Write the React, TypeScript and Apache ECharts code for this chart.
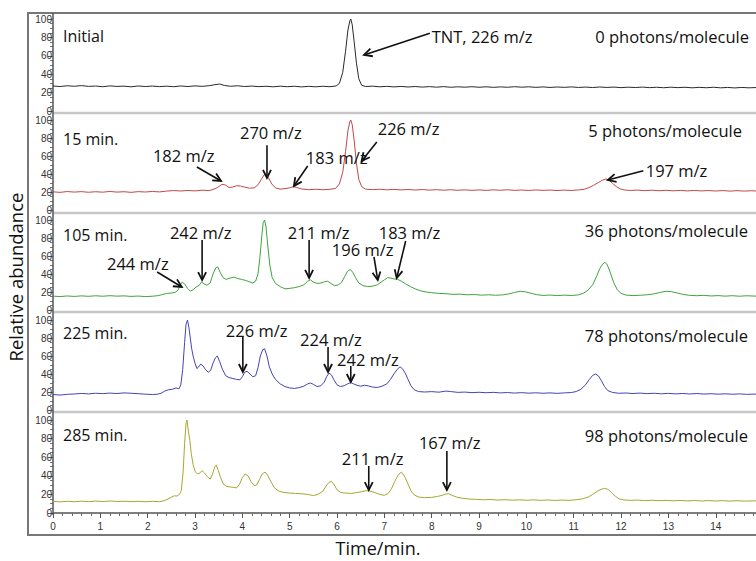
import React, { useEffect, useRef } from "react";
import * as echarts from "echarts";

// ---- Data (time in min, relative abundance in %) ----
const panelLabels = ["Initial", "15 min.", "105 min.", "225 min.", "285 min."];
const photonLabels = [
  "0 photons/molecule",
  "5 photons/molecule",
  "36 photons/molecule",
  "78 photons/molecule",
  "98 photons/molecule",
];
const lineColors = ["#2a2a2a", "#c0484a", "#3fa33f", "#4444b4", "#a6a632"];
const xTickLabels = ["0", "1", "2", "3", "4", "5", "6", "7", "8", "9", "10", "11", "12", "13", "14"];
const yTickLabels = ["0", "20", "40", "60", "80", "100"];

const initialTrace = [
  [0, 27.2], [0.15, 26.6], [0.3, 27.4], [0.45, 26.9], [0.6, 27.6], [0.75, 26.8], [0.9, 27.1], [1.05, 26.4], [1.2, 27.3], [1.35, 26.7],
  [1.5, 27.0], [1.65, 26.3], [1.8, 27.2], [1.95, 26.6], [2.1, 27.1], [2.25, 26.5], [2.4, 27.0], [2.55, 26.4], [2.7, 27.2], [2.85, 26.6],
  [3.0, 27.3], [3.15, 26.8], [3.3, 27.5], [3.42, 28.6], [3.52, 29.3], [3.62, 27.8], [3.75, 26.9], [3.9, 27.4], [4.05, 26.6], [4.2, 27.1],
  [4.35, 26.5], [4.5, 26.9], [4.65, 26.3], [4.8, 27.0], [4.95, 26.4], [5.1, 26.9], [5.25, 26.2], [5.4, 26.8], [5.55, 26.3], [5.7, 26.9],
  [5.85, 26.4], [5.98, 27.2], [6.05, 30], [6.12, 42], [6.18, 65], [6.23, 88], [6.27, 98], [6.29, 100], [6.32, 94], [6.36, 76],
  [6.41, 52], [6.46, 35], [6.52, 28], [6.6, 26.6], [6.75, 27.0], [6.9, 26.3], [7.05, 26.8], [7.2, 26.2], [7.35, 26.7], [7.5, 26.1],
  [7.65, 26.6], [7.8, 26.0], [7.95, 26.5], [8.1, 25.9], [8.25, 26.5], [8.4, 25.8], [8.55, 26.3], [8.7, 25.9], [8.85, 26.4], [9.0, 25.8],
  [9.15, 26.3], [9.3, 25.7], [9.45, 26.2], [9.6, 25.8], [9.75, 26.4], [9.9, 25.9], [10.05, 26.3], [10.2, 25.7], [10.35, 26.2], [10.5, 25.6],
  [10.65, 26.1], [10.8, 25.7], [10.95, 26.2], [11.1, 25.6], [11.25, 26.0], [11.4, 25.5], [11.55, 26.1], [11.7, 25.6], [11.85, 26.0], [12.0, 25.4],
  [12.15, 25.9], [12.3, 25.5], [12.45, 26.0], [12.6, 25.4], [12.75, 25.8], [12.9, 25.3], [13.05, 25.9], [13.2, 25.4], [13.35, 25.8], [13.5, 25.2],
  [13.65, 25.7], [13.8, 25.3], [13.95, 25.8], [14.1, 25.2], [14.25, 25.6], [14.4, 25.1], [14.55, 25.6], [14.7, 25.2], [14.85, 25.5],
];

const min15Trace = [
  [0, 20.2], [0.15, 19.6], [0.3, 20.5], [0.45, 19.9], [0.6, 20.4], [0.75, 19.7], [0.9, 20.3], [1.05, 19.8], [1.2, 20.6], [1.35, 19.9],
  [1.5, 20.3], [1.65, 19.6], [1.8, 20.4], [1.95, 20.0], [2.1, 20.6], [2.25, 20.1], [2.4, 21.0], [2.55, 21.6], [2.7, 21.1], [2.85, 21.7],
  [3.0, 21.2], [3.15, 22.0], [3.3, 21.6], [3.42, 23.5], [3.5, 26], [3.57, 28.5], [3.64, 27.8], [3.72, 25], [3.8, 25.5], [3.88, 27],
  [3.96, 26.6], [4.05, 25.4], [4.15, 24.2], [4.25, 24.6], [4.33, 28], [4.4, 34], [4.46, 39], [4.5, 40], [4.55, 36], [4.62, 29],
  [4.7, 24.5], [4.8, 23.2], [4.9, 23.8], [5.0, 24.6], [5.08, 26], [5.15, 25], [5.25, 23.4], [5.4, 22.6], [5.55, 23.1], [5.7, 22.5],
  [5.85, 23.0], [5.97, 24], [6.05, 29], [6.12, 42], [6.18, 65], [6.23, 88], [6.27, 98], [6.29, 100], [6.32, 95], [6.36, 78],
  [6.41, 52], [6.46, 34], [6.52, 26], [6.6, 23.2], [6.75, 22.6], [6.9, 23.1], [7.05, 22.4], [7.2, 22.9], [7.35, 22.3], [7.5, 22.8],
  [7.65, 22.2], [7.8, 22.7], [7.95, 22.1], [8.1, 22.6], [8.25, 22.0], [8.4, 22.5], [8.55, 21.9], [8.7, 22.4], [8.85, 21.8], [9.0, 22.3],
  [9.15, 21.8], [9.3, 22.4], [9.45, 21.9], [9.6, 22.5], [9.75, 21.8], [9.9, 22.2], [10.05, 21.7], [10.2, 22.3], [10.35, 21.8], [10.5, 22.2],
  [10.65, 21.6], [10.8, 22.1], [10.95, 21.7], [11.1, 22.3], [11.22, 23], [11.32, 24.8], [11.42, 27.5], [11.52, 30.5], [11.6, 33], [11.68, 34.5],
  [11.75, 33], [11.82, 29.5], [11.9, 26], [11.98, 23.5], [12.08, 22.2], [12.2, 21.7], [12.35, 22.1], [12.5, 21.5], [12.65, 22.0], [12.8, 21.4],
  [12.95, 21.9], [13.1, 21.3], [13.25, 21.8], [13.4, 21.2], [13.55, 21.7], [13.7, 21.2], [13.85, 21.6], [14.0, 21.1], [14.15, 21.6], [14.3, 21.0],
  [14.45, 21.5], [14.6, 21.0], [14.75, 21.4], [14.85, 21.1],
];

const min105Trace = [
  [0, 15.4], [0.15, 14.9], [0.3, 15.6], [0.45, 15.1], [0.6, 15.7], [0.75, 15.2], [0.9, 15.8], [1.05, 15.3], [1.2, 15.9], [1.35, 15.4],
  [1.5, 15.7], [1.65, 15.1], [1.8, 15.5], [1.95, 14.9], [2.1, 15.3], [2.2, 15.8], [2.3, 17], [2.4, 18.4], [2.5, 18.8], [2.58, 19.5],
  [2.64, 22], [2.69, 28], [2.73, 31], [2.78, 29], [2.84, 24], [2.9, 21], [2.96, 22.5], [3.02, 25.5], [3.08, 27], [3.14, 31],
  [3.19, 29], [3.25, 27.5], [3.32, 30], [3.38, 40], [3.44, 47], [3.48, 48], [3.53, 42], [3.59, 36], [3.66, 34], [3.74, 35.5],
  [3.82, 36.5], [3.9, 35], [3.98, 34], [4.06, 33], [4.14, 31.5], [4.22, 30], [4.28, 32], [4.33, 40], [4.37, 58], [4.41, 82],
  [4.44, 97], [4.47, 100], [4.5, 92], [4.54, 70], [4.58, 50], [4.63, 36], [4.7, 29.5], [4.8, 26], [4.9, 23.5], [5.0, 24],
  [5.1, 24.8], [5.2, 26], [5.3, 28], [5.38, 32], [5.44, 33.5], [5.5, 31], [5.58, 29.5], [5.66, 30], [5.74, 31.5], [5.8, 32],
  [5.87, 29.5], [5.95, 27], [6.03, 28], [6.1, 31], [6.16, 37], [6.22, 43], [6.28, 45], [6.33, 42], [6.39, 36], [6.46, 30],
  [6.55, 27], [6.65, 26], [6.75, 26.5], [6.85, 28], [6.93, 31], [7.0, 33.5], [7.07, 36], [7.14, 35.5], [7.2, 34.5], [7.28, 34],
  [7.36, 32], [7.45, 29], [7.55, 26], [7.65, 23.5], [7.75, 21.5], [7.88, 20], [8.0, 19.2], [8.15, 18.5], [8.3, 18.1], [8.45, 17.4],
  [8.6, 17.6], [8.75, 16.9], [8.9, 17.2], [9.05, 16.5], [9.2, 16.9], [9.35, 16.4], [9.5, 16.8], [9.62, 17.8], [9.75, 19.5], [9.87, 20.8],
  [9.98, 20.2], [10.1, 18.5], [10.22, 17], [10.35, 16.2], [10.5, 16.6], [10.65, 16.0], [10.8, 16.5], [10.95, 16.1], [11.1, 16.8], [11.2, 18.5],
  [11.3, 22], [11.4, 28], [11.48, 37], [11.55, 46], [11.61, 51], [11.66, 53], [11.71, 50], [11.77, 42], [11.84, 31], [11.92, 22.5],
  [12.0, 18.5], [12.1, 16.6], [12.25, 16.0], [12.4, 16.4], [12.55, 16.9], [12.7, 18.0], [12.82, 19.5], [12.95, 20.8], [13.05, 20.5], [13.18, 19],
  [13.3, 17.4], [13.45, 16.3], [13.6, 15.9], [13.75, 16.3], [13.9, 15.6], [14.05, 16.0], [14.2, 15.4], [14.35, 15.9], [14.5, 15.3], [14.65, 15.8],
  [14.85, 15.4],
];

const min225Trace = [
  [0, 17.2], [0.15, 16.6], [0.3, 17.4], [0.45, 17.8], [0.6, 18.4], [0.75, 17.9], [0.9, 18.6], [1.05, 18.2], [1.2, 18.8], [1.35, 18.3],
  [1.5, 19.0], [1.65, 18.6], [1.8, 18.1], [1.95, 17.6], [2.1, 17.2], [2.2, 17.5], [2.28, 18.5], [2.36, 21], [2.44, 22.5], [2.52, 23],
  [2.6, 24.5], [2.66, 23.5], [2.7, 28], [2.74, 45], [2.78, 75], [2.81, 95], [2.84, 100], [2.87, 92], [2.9, 80], [2.93, 68],
  [2.96, 60], [3.0, 52], [3.04, 46], [3.08, 48], [3.12, 51], [3.17, 49], [3.22, 45], [3.28, 42], [3.33, 44], [3.38, 52],
  [3.43, 58], [3.47, 60], [3.52, 54], [3.58, 45], [3.65, 38], [3.72, 36], [3.8, 35], [3.88, 34], [3.95, 33.5], [4.0, 37],
  [4.05, 42], [4.1, 43], [4.16, 40], [4.22, 37], [4.28, 38], [4.33, 47], [4.38, 60], [4.43, 67], [4.47, 68], [4.52, 60],
  [4.57, 48], [4.63, 40], [4.7, 34], [4.8, 29], [4.9, 26], [5.0, 24.5], [5.1, 24], [5.2, 24.8], [5.3, 26.5], [5.38, 29],
  [5.44, 30], [5.5, 28.5], [5.58, 26], [5.66, 27], [5.73, 31], [5.78, 37], [5.83, 41], [5.88, 39], [5.94, 33], [6.0, 28],
  [6.07, 26], [6.15, 27], [6.22, 29], [6.29, 30.5], [6.35, 29], [6.42, 27.5], [6.5, 26.5], [6.58, 27.5], [6.66, 26.8], [6.75, 25.5],
  [6.85, 25], [6.95, 26.5], [7.05, 29], [7.13, 34], [7.2, 40], [7.27, 45], [7.33, 48], [7.38, 46], [7.44, 41], [7.5, 34],
  [7.56, 27], [7.63, 22.5], [7.72, 20.5], [7.85, 20], [8.0, 20.4], [8.15, 19.8], [8.3, 21], [8.4, 20.5], [8.55, 19.6], [8.7, 19.9],
  [8.85, 19.3], [9.0, 19.7], [9.15, 19.2], [9.3, 19.6], [9.45, 19.0], [9.6, 19.4], [9.75, 18.8], [9.9, 19.3], [10.05, 18.7], [10.2, 19.1],
  [10.35, 18.6], [10.5, 19.0], [10.65, 18.5], [10.8, 19.0], [10.95, 19.4], [11.05, 20.5], [11.15, 23], [11.25, 28], [11.33, 34], [11.4, 38.5],
  [11.46, 40], [11.52, 38], [11.58, 33], [11.65, 26], [11.72, 21.5], [11.82, 19.5], [11.95, 18.6], [12.1, 18.9], [12.25, 18.3], [12.4, 18.8],
  [12.55, 18.2], [12.7, 18.6], [12.85, 18.0], [13.0, 18.5], [13.15, 17.9], [13.3, 18.4], [13.45, 17.8], [13.6, 18.3], [13.75, 17.7], [13.9, 18.1],
  [14.05, 17.6], [14.2, 18.0], [14.35, 17.5], [14.5, 17.9], [14.65, 17.4], [14.85, 17.7],
];

const min285Trace = [
  [0, 12.4], [0.15, 12.0], [0.3, 12.6], [0.45, 12.1], [0.6, 12.7], [0.75, 12.2], [0.9, 12.8], [1.05, 12.3], [1.2, 12.9], [1.35, 12.4],
  [1.5, 12.7], [1.65, 12.2], [1.8, 12.6], [1.95, 12.1], [2.1, 12.5], [2.25, 12.2], [2.35, 13.2], [2.43, 15], [2.5, 17], [2.56, 18.5],
  [2.62, 18.2], [2.67, 20], [2.71, 24], [2.75, 45], [2.78, 75], [2.81, 96], [2.83, 100], [2.86, 88], [2.89, 78], [2.92, 64],
  [2.96, 52], [3.0, 45], [3.05, 42], [3.1, 43], [3.15, 45.5], [3.2, 43], [3.26, 39], [3.32, 36.5], [3.37, 42], [3.42, 50],
  [3.45, 51.5], [3.49, 46], [3.54, 38], [3.6, 31], [3.67, 28.5], [3.75, 28], [3.82, 27.5], [3.88, 27], [3.94, 31], [4.0, 38],
  [4.06, 42], [4.12, 40], [4.18, 34], [4.25, 29.5], [4.3, 30], [4.36, 36], [4.42, 42], [4.48, 44], [4.53, 41], [4.6, 34],
  [4.68, 27], [4.77, 23.5], [4.88, 22], [5.0, 21.5], [5.12, 21], [5.25, 20.7], [5.38, 20], [5.5, 18.8], [5.6, 20], [5.7, 23.5],
  [5.77, 29], [5.83, 33], [5.88, 34], [5.93, 31], [6.0, 25], [6.08, 22], [6.18, 21.5], [6.3, 21], [6.42, 22], [6.52, 23],
  [6.62, 24], [6.7, 23.5], [6.8, 22], [6.9, 20], [7.0, 19], [7.08, 21], [7.15, 26], [7.22, 34], [7.28, 40], [7.34, 43.5],
  [7.38, 43], [7.44, 38], [7.5, 31], [7.56, 24], [7.63, 19.5], [7.72, 17.2], [7.85, 16.5], [8.0, 16.8], [8.12, 17.8], [8.22, 19],
  [8.3, 20.5], [8.36, 20.8], [8.43, 19], [8.52, 17.2], [8.65, 15.8], [8.8, 15], [8.95, 14.6], [9.1, 14.2], [9.25, 14.5], [9.4, 13.9],
  [9.55, 14.3], [9.7, 13.8], [9.85, 14.2], [10.0, 13.7], [10.15, 14.1], [10.3, 13.6], [10.45, 14.0], [10.6, 13.5], [10.75, 13.9], [10.9, 13.6],
  [11.05, 14.2], [11.18, 15.2], [11.3, 17], [11.4, 20], [11.5, 23.5], [11.58, 25.5], [11.65, 26.5], [11.72, 25.5], [11.8, 22], [11.88, 18],
  [11.96, 15.2], [12.06, 14], [12.2, 13.6], [12.35, 13.9], [12.5, 13.3], [12.65, 13.7], [12.8, 13.2], [12.95, 13.6], [13.1, 13.1], [13.25, 13.5],
  [13.4, 13.0], [13.55, 13.4], [13.7, 12.9], [13.85, 13.4], [14.0, 12.9], [14.15, 13.3], [14.3, 12.8], [14.45, 13.2], [14.6, 12.8], [14.85, 13.1],
];

const traces = [initialTrace, min15Trace, min105Trace, min225Trace, min285Trace];

// Peak annotations: panel, label, label anchor (data), arrow tail (data), arrow tip (data)
const annPanel = [0, 1, 1, 1, 1, 1, 2, 2, 2, 2, 2, 3, 3, 3, 4, 4];
const annText = [
  "TNT, 226 m/z", "182 m/z", "270 m/z", "183 m/z", "226 m/z", "197 m/z",
  "242 m/z", "244 m/z", "211 m/z", "196 m/z", "183 m/z",
  "226 m/z", "224 m/z", "242 m/z", "211 m/z", "167 m/z",
];
const annLabelAt = [
  [8.0, 81.5], [2.11, 61], [3.95, 85.6], [5.34, 57.8], [6.86, 91], [12.52, 44.4],
  [2.47, 85.6], [1.14, 52.2], [4.96, 85.6], [5.89, 66.7], [6.88, 85.6],
  [3.65, 87.8], [5.22, 77.8], [6.0, 55.6], [6.1, 59.1], [7.73, 75.3],
];
const annTail = [
  [7.96, 84.5], [3.04, 47.8], [4.52, 72], [5.38, 48.9], [6.84, 75.6], [12.47, 43.5],
  [3.15, 77.8], [2.2, 42.2], [5.41, 77.8], [6.78, 58.9], [7.45, 76.7],
  [4.01, 81.1], [5.81, 70], [6.29, 48.9], [6.67, 50.5], [8.32, 66.7],
];
const annTip = [
  [6.57, 60.9], [3.55, 32.2], [4.52, 35.6], [5.09, 26.7], [6.52, 54.4], [11.72, 33.3],
  [3.15, 33.3], [2.72, 25.6], [5.41, 35.6], [6.86, 33.3], [7.26, 35.6],
  [4.01, 42.2], [5.81, 42.2], [6.29, 31.1], [6.67, 24.7], [8.32, 24.7],
];

// ---- Layout ----
const gridTops = [19, 120, 220, 320, 420];
const gridHeights = [92, 90, 90, 90, 93];
const panelLabelY = [36, 139, 235, 333, 435];
const photonX = [749, 742, 748, 748, 748];
const photonY = [36, 130, 230, 335, 435];
const FONT = '"Open Sans", "Noto Sans", sans-serif';
const TICK_FONT = '"Liberation Sans", Arial, sans-serif';

export default function App() {
  const ref = useRef<HTMLDivElement>(null);
  useEffect(() => {
    const chart = echarts.init(ref.current!, null, { renderer: "svg" });
    const grids = gridTops.map((t, i) => ({ left: 53, right: 0, top: t, height: gridHeights[i] }));
    const xAxes = gridTops.map((_, i) => {
      const last = i === gridTops.length - 1;
      return {
        type: "value",
        gridIndex: i,
        min: 0,
        max: 14.85,
        interval: 1,
        offset: last ? 2 : 0,
        axisLine: { show: last, lineStyle: { color: "#555", width: 1.5 } },
        axisTick: { show: last, length: 5, lineStyle: { color: "#555" } },
        minorTick: { show: last, splitNumber: 5, length: 3, lineStyle: { color: "#666" } },
        axisLabel: {
          show: last,
          fontSize: 10,
          color: "#333",
          fontFamily: TICK_FONT,
          margin: 6,
          formatter: (v: number) => (Number.isInteger(v) && v < xTickLabels.length ? xTickLabels[v] : ""),
          showMaxLabel: false,
        },
        splitLine: { show: false },
      };
    });
    const yAxes = gridTops.map((_, i) => ({
      type: "value",
      gridIndex: i,
      min: 0,
      max: 100,
      interval: 20,
      axisLine: { show: false },
      axisTick: { show: true, length: 5, lineStyle: { color: "#555" } },
      minorTick: { show: true, splitNumber: 4, length: 3, lineStyle: { color: "#777" } },
      axisLabel: {
        fontSize: 10,
        color: "#333",
        fontFamily: TICK_FONT,
        margin: 1,
        formatter: (v: number) => yTickLabels[Math.round(v / 20)] ?? "",
      },
      splitLine: { show: false },
    }));
    const series = traces.map((d, i) => ({
      type: "line",
      xAxisIndex: i,
      yAxisIndex: i,
      data: d,
      showSymbol: false,
      symbol: "none",
      lineStyle: { color: lineColors[i], width: 1 },
      z: 3,
    }));
    chart.setOption({
      animation: false,
      grid: grids,
      xAxis: xAxes,
      yAxis: yAxes,
      series,
    });

    const g: any[] = [];
    // outer frame
    g.push({
      type: "rect",
      shape: { x: 28, y: 13, width: 800, height: 522 },
      style: { fill: "none", stroke: "#777", lineWidth: 2 },
      z: 1,
    });
    // panel separators
    [113, 213, 312, 412].forEach((y) =>
      g.push({
        type: "line",
        shape: { x1: 53, y1: y, x2: 760, y2: y },
        style: { stroke: "#c6c6c6", lineWidth: 2.5 },
        z: 1,
      })
    );
    // continuous y axis line
    g.push({
      type: "line",
      shape: { x1: 53, y1: 13, x2: 53, y2: 515 },
      style: { stroke: "#555", lineWidth: 1.5 },
      z: 2,
    });
    // panel labels
    panelLabels.forEach((t, i) =>
      g.push({
        type: "text",
        x: 63,
        y: panelLabelY[i],
        style: { text: t, fontSize: 16, fontFamily: FONT, fill: "#111", align: "left", verticalAlign: "middle" },
        z: 5,
      })
    );
    photonLabels.forEach((t, i) =>
      g.push({
        type: "text",
        x: photonX[i],
        y: photonY[i],
        style: { text: t, fontSize: 16.5, fontFamily: FONT, fill: "#111", align: "right", verticalAlign: "middle" },
        z: 5,
      })
    );
    // annotations
    annText.forEach((t, k) => {
      const p = annPanel[k];
      const finder = { xAxisIndex: p, yAxisIndex: p };
      const lp = chart.convertToPixel(finder, annLabelAt[k]) as number[];
      const tp = chart.convertToPixel(finder, annTail[k]) as number[];
      const hp = chart.convertToPixel(finder, annTip[k]) as number[];
      g.push({
        type: "text",
        x: lp[0],
        y: lp[1],
        style: { text: t, fontSize: 16.5, fontFamily: FONT, fill: "#111", align: "left", verticalAlign: "middle" },
        z: 5,
      });
      const dx = hp[0] - tp[0];
      const dy = hp[1] - tp[1];
      const len = Math.hypot(dx, dy) || 1;
      const ux = dx / len;
      const uy = dy / len;
      const hl = 8;
      const hw = 4;
      const bx = hp[0] - ux * hl;
      const by = hp[1] - uy * hl;
      g.push({
        type: "line",
        shape: { x1: tp[0], y1: tp[1], x2: hp[0], y2: hp[1] },
        style: { stroke: "#111", lineWidth: 1.6 },
        z: 5,
      });
      g.push({
        type: "polyline",
        shape: { points: [[bx - uy * hw, by + ux * hw], [hp[0], hp[1]], [bx + uy * hw, by - ux * hw]] },
        style: { stroke: "#111", lineWidth: 1.8, fill: "none" },
        z: 5,
      });
    });
    // axis titles
    g.push({
      type: "text",
      x: 378,
      y: 548,
      style: { text: "Time/min.", fontSize: 18, fontFamily: FONT, fill: "#111", align: "center", verticalAlign: "middle" },
      z: 5,
    });
    g.push({
      type: "text",
      x: 15,
      y: 277,
      rotation: Math.PI / 2,
      style: { text: "Relative abundance", fontSize: 18.5, fontFamily: FONT, fill: "#111", align: "center", verticalAlign: "middle" },
      z: 5,
    });
    chart.setOption({ graphic: g });
    return () => chart.dispose();
  }, []);
  return <div ref={ref} style={{ position: "absolute", left: 0, top: 0, width: 756, height: 561 }} />;
}
